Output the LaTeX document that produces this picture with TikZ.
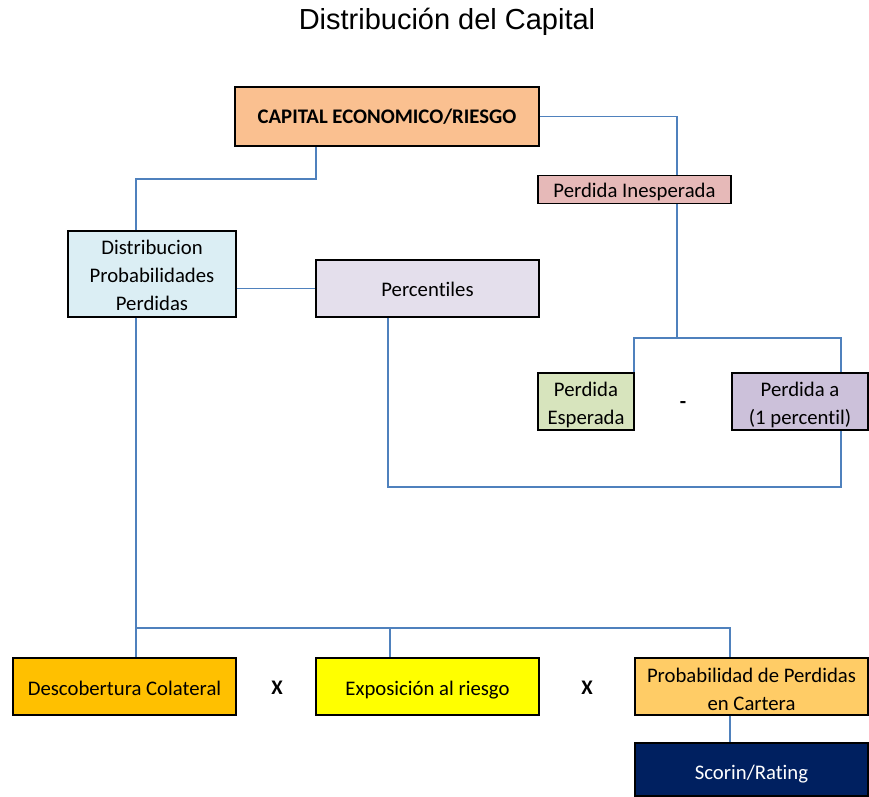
\documentclass[tikz,border=0pt]{standalone}
\usepackage{fontspec}
\setmainfont[Ligatures=NoCommon]{Carlito}
\newfontfamily\arialf{Liberation Sans}
\definecolor{lineblue}{HTML}{4F81BD}
\definecolor{capc}{HTML}{FAC090}
\definecolor{pic}{HTML}{E6B9B8}
\definecolor{distc}{HTML}{DBEEF4}
\definecolor{percc}{HTML}{E4DFEC}
\definecolor{pec}{HTML}{D7E4BD}
\definecolor{pac}{HTML}{CCC1DA}
\definecolor{descc}{HTML}{FFC000}
\definecolor{expoc}{HTML}{FFFF00}
\definecolor{probc}{HTML}{FFCC66}
\definecolor{scorc}{HTML}{002060}
\newcommand{\toppad}[1]{\rule{0pt}{#1}}
\begin{document}
\begin{tikzpicture}[x=0.02cm,y=-0.02cm,
  box/.style={draw=black,line width=0.7pt,align=center,inner sep=0pt,
    font=\fontsize{11.8}{15.9}\selectfont},
  oneline/.style={text height=#1,text depth=0pt},
  conn/.style={draw=lineblue,line width=1.1pt},
  sym/.style={font=\fontsize{11.8}{14}\selectfont\bfseries}]
\useasboundingbox (0,0) rectangle (869,796);
\node[font=\arialf\fontsize{16.5}{20}\selectfont] (title) at (447,22) {Distribución del Capital};
\node[box,fill=capc,line width=1.4pt,minimum width=6.08cm,minimum height=1.18cm,font=\fontsize{11.8}{15.9}\selectfont\bfseries] (cap) at (387,116.5) {CAPITAL ECONOMICO/RIESGO};
\node[box,fill=pic,oneline=9.3pt,minimum width=3.86cm,minimum height=0.56cm] (pi) at (634.5,189.5) {Perdida Inesperada};
\node[box,fill=distc,minimum width=3.36cm,minimum height=1.72cm] (dist) at (152,274) {\toppad{9.6pt}Distribucion\\Probabilidades\\Perdidas};
\node[box,fill=percc,oneline=9.5pt,minimum width=4.46cm,minimum height=1.14cm] (perc) at (427.5,288.5) {Percentiles};
\node[box,fill=pec,minimum width=1.92cm,minimum height=1.14cm] (pe) at (586,401.5) {\toppad{12.3pt}Perdida\\Esperada};
\node[box,fill=pac,minimum width=2.72cm,minimum height=1.14cm] (pa) at (800,401.5) {\toppad{12.3pt}Perdida a\\(1 percentil)};
\node[sym] (minus) at (683,405) {-};
\node[box,fill=descc,oneline=10.6pt,minimum width=4.46cm,minimum height=1.14cm] (desc) at (124.5,686.5) {Descobertura Colateral};
\node[box,fill=expoc,oneline=10.6pt,minimum width=4.46cm,minimum height=1.14cm] (expo) at (427.5,686.5) {Exposición al riesgo};
\node[box,fill=probc,minimum width=4.66cm,minimum height=1.14cm] (prob) at (751.5,686.5) {\toppad{11.4pt}Probabilidad de Perdidas\\en Cartera};
\node[box,fill=scorc,text=white,oneline=11.5pt,minimum width=4.66cm,minimum height=1.06cm] (scor) at (751.5,769.5) {Scorin/Rating};
\node[sym] (x1) at (277,688) {X};
\node[sym] (x2) at (587,688) {X};
% bend points
\coordinate (b1) at (316,179);
\coordinate (b2) at (136,179);
\coordinate (b3) at (677,116.5);
\coordinate (b4) at (677,338);
\coordinate (b5) at (634,338);
\coordinate (b6) at (841,338);
\coordinate (b7) at (388,487);
\coordinate (b8) at (841,487);
\coordinate (b9) at (136,628);
\coordinate (b10) at (730,628);
\coordinate (b11) at (390,628);
% connectors
\draw[conn] (b1 |- cap.south) -- (b1) -- (b2) -- (b2 |- dist.north);
\draw[conn] (cap.east) -- (b3) -- (b3 |- pi.north);
\draw[conn] (b4 |- pi.south) -- (b4);
\draw[conn] (b5 |- pe.north) -- (b5) -- (b6) -- (b6 |- pa.north);
\draw[conn] (perc.west -| dist.east) -- (perc.west);
\draw[conn] (b7 |- perc.south) -- (b7) -- (b8) -- (b8 |- pa.south);
\draw[conn] (b9 |- dist.south) -- (b9) -- (b9 |- desc.north);
\draw[conn] (b9) -- (b10) -- (b10 |- prob.north);
\draw[conn] (b11) -- (b11 |- expo.north);
\draw[conn] (b10 |- prob.south) -- (b10 |- scor.north);
\end{tikzpicture}
\end{document}
